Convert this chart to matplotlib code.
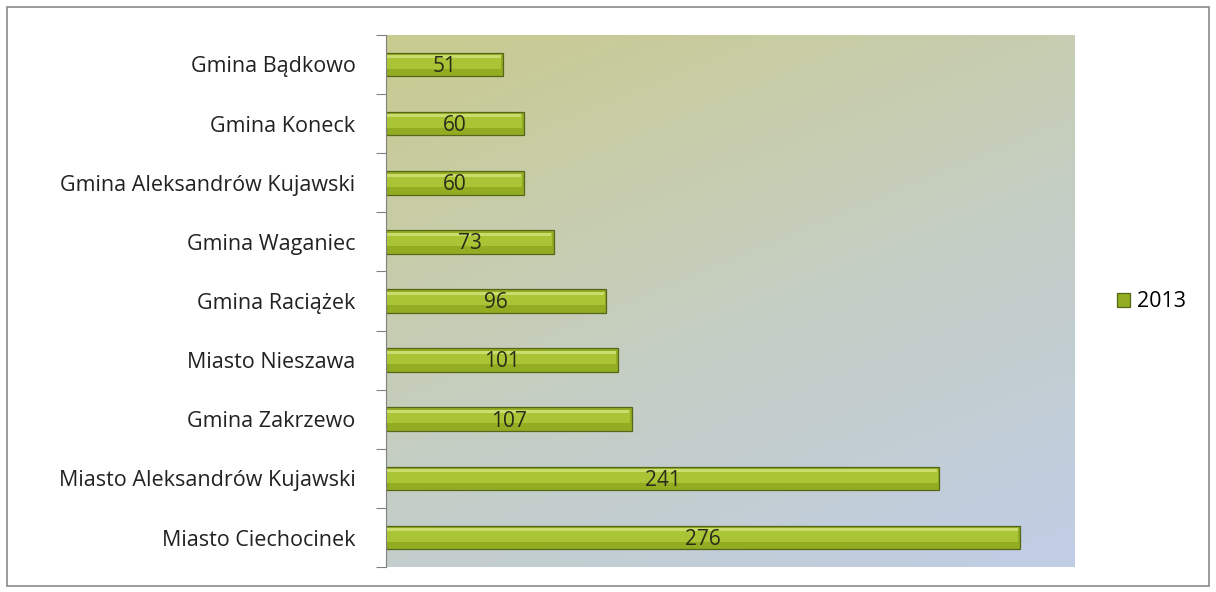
import numpy as np
import matplotlib.pyplot as plt
from matplotlib.colors import LinearSegmentedColormap
from matplotlib.patches import Rectangle

plt.rcParams['font.family'] = ['Open Sans', 'DejaVu Sans']

# data, top to bottom as shown
gminy = [
    "Gmina Bądkowo",
    "Gmina Koneck",
    "Gmina Aleksandrów Kujawski",
    "Gmina Waganiec",
    "Gmina Raciążek",
    "Miasto Nieszawa",
    "Gmina Zakrzewo",
    "Miasto Aleksandrów Kujawski",
    "Miasto Ciechocinek",
]
wartosci_2013 = [51, 60, 60, 73, 96, 101, 107, 241, 276]
seria = "2013"

fig = plt.figure(figsize=(12.16, 5.92), dpi=100)
ax = fig.add_axes([0.3174, 0.042, 0.5666, 0.899])

n = len(gminy)
y = np.arange(n)[::-1]

# background: greenish top-left to bluish bottom-right
bg = LinearSegmentedColormap.from_list("bg", ["#c9cb8e", "#c5cec0", "#c0cde6"])
gx, gy = np.meshgrid(np.linspace(0, 1, 200), np.linspace(0, 1, 200))
ax.imshow(0.35 * gx + 0.65 * gy, cmap=bg, aspect="auto",
          extent=[0, 300, -0.5, n - 0.5], origin="upper", zorder=0)

h = 0.4
ax.barh(y, wartosci_2013, height=h, color="#92ad22", edgecolor="#55651a",
        linewidth=0.9, zorder=2, label=seria)
# fake gloss: lighter upper band + thin highlight
ax.barh(y + 0.04, [v - 1.0 for v in wartosci_2013], height=0.22, left=0.3,
        color="#a9c535", linewidth=0, zorder=3)
ax.barh(y + 0.13, [v - 1.5 for v in wartosci_2013], height=0.05, left=0.5,
        color="#cadd6c", linewidth=0, zorder=3)

for yi, v in zip(y, wartosci_2013):
    ax.text(v / 2, yi - 0.03, str(v), ha="center", va="center", fontsize=15,
            color="#2a2a1a", zorder=4)

ax.set_xlim(0, 300)
ax.set_ylim(-0.5, n - 0.5)
ax.set_xticks([])
ax.set_yticks(np.arange(n + 1) - 0.5)
ax.set_yticklabels([])
ax.set_yticks(y, minor=True)
ax.set_yticklabels(gminy, minor=True, fontsize=15.5, color="#222222")
ax.tick_params(axis="y", which="major", length=7, color="#808080", direction="out")
ax.tick_params(axis="y", which="minor", length=0, pad=22)
for s in ["top", "right", "bottom"]:
    ax.spines[s].set_visible(False)
ax.spines["left"].set_color("#808080")

fig.legend(loc="center left", bbox_to_anchor=(0.903, 0.49), frameon=False,
           fontsize=15.5, handlelength=0.6, handleheight=0.6, handletextpad=0.3)

# outer chart border
fig.patches.append(Rectangle((0.006, 0.01), 0.988, 0.978, transform=fig.transFigure,
                             fill=False, edgecolor="#8a8a8a", linewidth=1.2))

fig.savefig("out.png", dpi=100)
